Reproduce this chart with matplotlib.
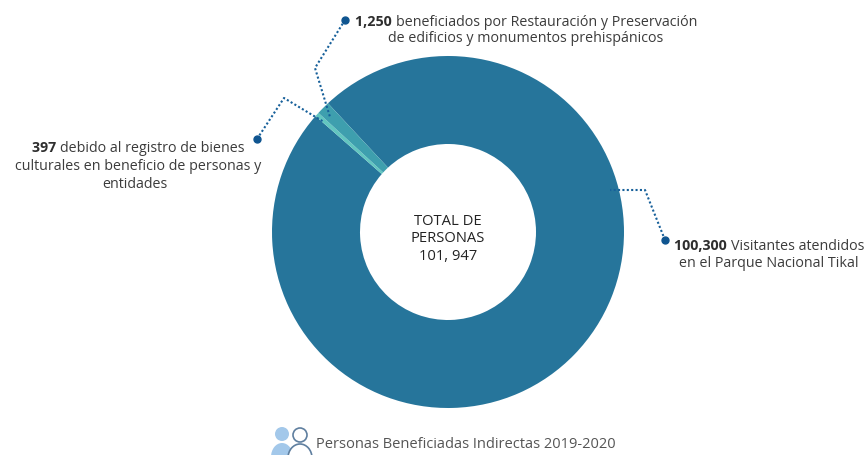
import matplotlib
matplotlib.use("Agg")
import matplotlib.pyplot as plt
from matplotlib.patches import Circle, Ellipse

# values in pie order, clockwise from the top left
beneficiados = [100300, 397, 1250]
colores = ["#26759B", "#62C6C0", "#3E9FAE"]

total_lines = ["TOTAL DE", "PERSONAS", "101, 947"]
titulo = "Personas Beneficiadas Indirectas 2019-2020"

W, H = 867, 456
FONT = "Open Sans"
SIZE = 10.25
GRAY = "#3c3c3c"
BLUE = "#17609A"

plt.rcParams["font.family"] = FONT

fig = plt.figure(figsize=(W / 100, H / 100), dpi=100)
ax = fig.add_axes([0, 0, 1, 1])


def py(y):
    # y measured from the top of the image
    return H - y


ax.pie(
    beneficiados,
    colors=colores,
    center=(448, py(233)),
    radius=176,
    startangle=133,
    counterclock=False,
    wedgeprops={"width": 88, "linewidth": 0},
    frame=True,
)
ax.set_xlim(0, W)
ax.set_ylim(0, H)
ax.set_aspect("equal")
ax.axis("off")

# dotted leader lines
leaders = [
    ([345, 315, 330], [21, 69, 118]),
    ([257, 284, 324], [140, 99, 123]),
    ([665, 645, 610], [241, 191, 191]),
]
for xs, ys in leaders:
    ax.plot(xs, [py(v) for v in ys], color=BLUE, lw=1.5, ls=(0, (1, 1.1)), zorder=4)
    ax.plot(xs[0], py(ys[0]), "o", color="#0F5590", ms=5, zorder=5)


def rich_line(cx, y, bold, rest):
    # bold number followed by regular text, centred as one line, y is the baseline
    r = fig.canvas.get_renderer()
    prefix = bold + " " if bold else ""
    t1 = ax.text(0, py(y), prefix.replace(" ", "\u00a0"), fontsize=SIZE, fontweight="bold", color="#2e2e2e", va="baseline")
    t2 = ax.text(0, py(y), rest, fontsize=SIZE, color=GRAY, va="baseline")
    w1 = t1.get_window_extent(r).width if bold else 0
    w2 = t2.get_window_extent(r).width
    left = cx - (w1 + w2) / 2
    t1.set_x(left)
    t2.set_x(left + w1)


rich_line(526, 26, "1,250", "beneficiados por Restauración y Preservación")
rich_line(526, 42, "", "de edificios y monumentos prehispánicos")
rich_line(138, 152, "397", "debido al registro de bienes")
rich_line(138, 170, "", "culturales en beneficio de personas y")
rich_line(135, 188, "", "entidades")
rich_line(769, 250, "100,300", "Visitantes atendidos")
rich_line(769, 267, "", "en el Parque Nacional Tikal")

for y, line in zip([221.5, 238.5, 256.5], total_lines):
    ax.text(448, py(y), line, fontsize=10.6, color="#222222", ha="center", va="center")

# people icon next to the caption
ax.add_patch(Ellipse((282, py(458)), 22, 28, fc="#A3C8EA", ec="none", zorder=2))
ax.add_patch(Circle((282, py(435)), 7, fc="#A3C8EA", ec="none", zorder=2))
ax.add_patch(Ellipse((300, py(459)), 24, 28, fc="white", ec="#5F7F9F", lw=1.2, zorder=3))
ax.add_patch(Circle((300, py(436)), 7, fc="white", ec="#5F7F9F", lw=1.2, zorder=3))

ax.text(316, py(444.5), titulo, fontsize=10.5, color="#555555", va="center")

fig.savefig("out.png", dpi=100)
